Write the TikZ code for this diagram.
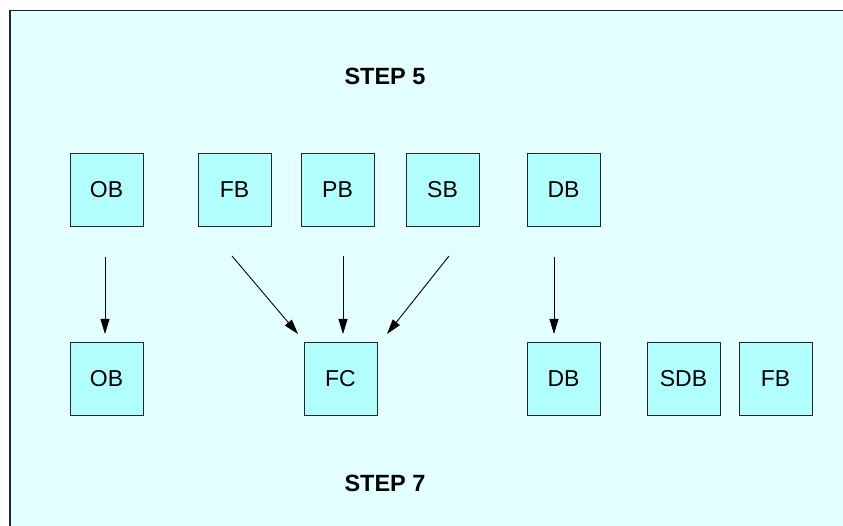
\documentclass[tikz,border=0pt]{standalone}
\usepackage{fontspec}
\setmainfont{Liberation Sans}
\usetikzlibrary{arrows.meta}
\definecolor{bgcyan}{RGB}{228,255,255}
\definecolor{boxcyan}{RGB}{178,255,255}
\tikzset{
  blk/.style={draw=black!85, line width=0.9pt, fill=boxcyan, minimum width=73pt, minimum height=73pt, inner sep=0pt, font=\fontsize{23}{25}\selectfont},
  steplabel/.style={font=\fontsize{23.5}{25}\selectfont\bfseries},
  conn/.style={line width=0.9pt, -{Triangle[length=15pt,width=9pt]}}
}
\begin{document}
\begin{tikzpicture}[x=1pt,y=-1pt]
\useasboundingbox (0,0) rectangle (843,526);
\fill[bgcyan] (10,10.5) rectangle (843,526);
\draw[line width=1.6pt, black!85] (10,526) -- (10,10.5) -- (843,10.5);

\node[steplabel] (s5) at (385,76) {STEP 5};
\node[steplabel] (s7) at (385,483) {STEP 7};

\node[blk] (ob1) at (106.5,189.5) {OB};
\node[blk] (fb1) at (234.5,189.5) {FB};
\node[blk] (pb)  at (337.5,189.5) {PB};
\node[blk] (sb)  at (442.5,189.5) {SB};
\node[blk] (db1) at (563.5,189.5) {DB};

\node[blk] (ob2) at (106.5,378.5) {OB};
\node[blk] (fc)  at (340.5,378.5) {FC};
\node[blk] (db2) at (563.5,378.5) {DB};
\node[blk] (sdb) at (683.5,378.5) {SDB};
\node[blk] (fb2) at (775.5,378.5) {FB};

\coordinate (a1s) at (105,257);  \coordinate (a1e) at (105,334);
\coordinate (a2s) at (232,256);  \coordinate (a2e) at (298,334);
\coordinate (a3s) at (343,256);  \coordinate (a3e) at (343,334);
\coordinate (a4s) at (449,256);  \coordinate (a4e) at (387,334);
\coordinate (a5s) at (554,257);  \coordinate (a5e) at (554,334);

\draw[conn] (a1s) -- (a1e);
\draw[conn] (a2s) -- (a2e);
\draw[conn] (a3s) -- (a3e);
\draw[conn] (a4s) -- (a4e);
\draw[conn] (a5s) -- (a5e);
\end{tikzpicture}
\end{document}
